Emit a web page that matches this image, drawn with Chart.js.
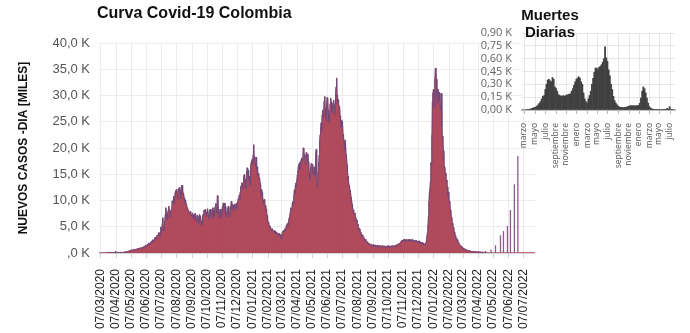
<!DOCTYPE html>
<html lang="es">
<head>
<meta charset="utf-8">
<title>Curva Covid-19 Colombia</title>
<script src="https://cdn.jsdelivr.net/npm/chart.js@4/dist/chart.umd.min.js"></script>
<style>
  body { margin: 0; background: #fff; }
  #wrap { position: relative; width: 690px; height: 333px; overflow: hidden; }
  canvas { position: absolute; top: 0; }
  .titulo { position: absolute; font-family: "Liberation Sans", Arial, sans-serif; font-weight: bold; color: #111; white-space: nowrap; }
  #t-casos { left: 97px; top: 5px; font-size: 16px; line-height: 16px; }
  #t-muertes { left: 505px; top: 6px; width: 90px; text-align: center; font-size: 15px; line-height: 17px; }
</style>
</head>
<body>
<div id="wrap">
  <canvas id="casos" width="690" height="333" style="left:0"></canvas>
  <canvas id="muertes" width="230" height="170" style="left:460px"></canvas>
  <div class="titulo" id="t-casos">Curva Covid-19 Colombia</div>
  <div class="titulo" id="t-muertes">Muertes<br>Diarias</div>
</div>
<script>
// casos nuevos por día, en miles (desde el 05/03/2020)
const casos2020 = [
  0,0,0,0,0,0,0,0,0,0,0,0,0,0,0,0.01,0.02,0.03,0.04,0.03,0.04,0.05,0.06,0.05,0.07,0.05,0.06,
  0.1,0.07,0.1,0.06,0.1,0.1,0.3,0.1,0.1,0.1,0.06,0.1,0.1,0.08,0.1,0.1,0.15,0.1,0.1,0.1,0.1,0.12,0.1,0.15,0.2,0.12,0.15,0.2,0.25,0.2,
  0.3,0.25,0.35,0.3,0.4,0.45,0.5,0.45,0.6,0.55,0.5,0.45,0.6,0.6,0.7,0.6,0.55,0.6,0.7,0.75,0.8,0.9,0.7,0.75,0.8,0.95,0.9,0.85,1.0,0.95,0.9,
  1.0,1.1,1.2,1.0,1.3,1.4,1.5,1.2,1.4,1.6,1.5,1.8,1.9,1.6,1.5,1.9,2.0,2.2,1.9,2.4,2.5,2.3,2.2,2.6,2.9,3.0,2.8,2.6,3.2,3.4,
  3.4,3.3,3.9,3.8,3.3,3.2,4.9,4.2,4.8,5.4,6.7,4.9,4.2,5.2,6.1,7.2,8.6,7.6,6.4,6.7,7.6,8.1,8.9,8.2,7.9,6.8,7.9,8.1,8.4,9.9,9.5,
  10.1,10.8,9.4,10.6,11.5,11.9,11.4,12.1,10.9,10.2,11.7,12.3,12.1,12.5,11.9,10.3,11.1,12.8,12.9,11.6,11.4,10.9,10.5,9.6,10.1,9.7,9.3,8.9,8.6,8.4,8.1,
  8.0,7.6,7.5,7.8,7.9,7.4,7.3,6.9,7.6,7.2,6.4,6.6,7.3,7.5,6.7,5.9,6.3,7.1,7.2,6.9,5.6,6.1,7.3,7.0,6.7,6.1,5.3,5.5,6.9,7.3,
  6.9,8.1,7.8,8.2,8.3,7.1,7.6,7.9,8.4,7.4,6.5,7.3,8.2,8.0,8.3,7.2,6.6,7.5,8.4,8.6,8.1,6.8,7.9,8.6,8.9,9.4,8.2,7.6,10.9,9.5,8.3,
  7.3,6.6,7.6,8.3,7.3,6.8,8.2,8.7,9.0,9.5,8.6,7.9,9.5,8.8,7.2,6.7,7.6,7.9,8.5,8.9,7.4,6.9,7.6,8.6,8.9,9.8,8.8,8.1,9.2,9.0,
  8.6,9.1,9.3,8.2,8.9,9.4,8.5,9.6,9.8,10.3,10.1,11.0,10.4,11.6,12.6,12.8,13.3,13.0,12.2,13.5,14.5,14.9,13.6,14.0,12.3,13.8,15.4,16.2,15.1,15.8,14.2
];
const casos2021 = [
  14.6,13.2,12.9,16.7,17.2,17.5,17.8,16.9,18.6,20.6,17.9,18.3,17.1,16.5,18.2,15.9,16.4,14.8,15.2,15.0,14.3,13.9,13.2,11.7,10.8,12.1,11.5,10.6,9.5,10.1,9.8,
  10.2,8.7,9.1,8.4,7.6,7.1,6.3,5.6,5.9,5.3,4.9,5.0,4.8,4.2,4.5,4.6,4.4,4.2,4.0,3.9,4.3,4.1,3.6,3.8,4.0,3.8,3.5,3.3,
  3.6,3.7,3.4,3.5,3.3,2.9,2.7,3.6,3.9,4.1,4.3,4.0,4.2,4.6,4.4,4.9,5.2,5.4,5.6,5.2,5.9,6.4,6.8,7.3,7.9,8.6,8.1,8.4,9.5,9.8,9.3,
  10.9,12.0,11.4,12.8,13.3,12.6,13.9,14.8,15.6,16.4,16.8,17.1,15.9,17.4,16.9,17.8,18.1,17.5,17.9,20.0,19.4,18.2,18.7,16.9,17.2,19.1,18.3,17.6,18.8,17.4,
  16.6,15.1,14.0,15.7,16.3,17.0,16.8,16.9,15.8,14.9,15.6,16.4,15.2,14.7,18.9,19.7,16.1,12.6,13.4,15.5,17.2,18.6,21.4,22.5,23.8,24.8,23.2,26.3,27.2,25.9,26.8,
  28.9,29.8,27.6,26.4,25.1,28.7,29.6,29.1,27.2,25.9,24.8,26.2,28.4,29.5,28.8,26.7,27.5,28.1,28.6,29.1,27.9,26.3,28.4,30.4,31.6,33.3,30.1,28.5,29.2,28.3,
  27.9,27.6,26.1,24.8,23.9,25.3,25.0,24.2,22.6,21.8,20.9,19.6,21.5,20.4,18.7,17.9,16.8,15.2,14.6,13.5,12.9,12.6,11.9,11.4,10.6,10.1,9.3,8.8,8.2,7.9,7.6,
  7.4,7.6,6.7,6.1,6.3,5.8,5.3,5.5,4.8,4.4,4.6,4.1,3.8,3.9,3.5,3.2,3.4,3.0,2.8,2.9,2.6,2.4,2.6,2.3,2.1,2.2,2.0,1.8,1.9,1.8,1.6,
  1.6,1.5,1.7,1.4,1.3,1.5,1.4,1.6,1.3,1.2,1.4,1.5,1.3,1.2,1.4,1.3,1.5,1.2,1.1,1.3,1.4,1.2,1.3,1.1,1.2,1.4,1.3,1.1,1.2,1.3,
  1.2,1.3,1.1,1.0,1.2,1.3,1.2,1.4,1.1,1.0,1.2,1.3,1.2,1.1,1.3,1.4,1.2,1.1,1.3,1.2,1.4,1.3,1.5,1.2,1.4,1.6,1.5,1.7,1.6,1.8,1.7,
  1.9,2.0,2.2,2.3,2.4,2.1,2.3,2.5,2.6,2.4,2.2,2.5,2.3,2.6,2.4,2.3,2.5,2.2,2.6,2.4,2.5,2.3,2.2,2.4,2.6,2.5,2.3,2.1,2.4,2.2,
  2.3,2.2,2.4,2.1,2.0,2.2,2.1,1.9,2.3,2.0,1.8,2.1,1.9,1.7,2.0,1.8,1.6,1.9,1.7,1.5,1.6,1.8,2.0,2.4,3.1,3.8,5.2,6.9,9.8,11.6,12.3
];
// hasta el 30/07/2022; desde finales de abril solo hay reportes semanales
const casos2022 = [
  13.6,17.2,16.8,22.4,28.9,30.4,31.1,29.5,27.8,33.2,35.2,34.6,33.1,29.8,28.4,31.2,30.7,29.1,30.5,29.6,27.4,28.1,30.4,24.0,22.3,21.4,19.5,17.8,16.4,15.9,14.7,
  15.2,13.4,13.9,12.6,11.2,11.6,10.3,9.9,9.4,8.2,7.9,6.8,6.6,5.7,5.3,4.9,4.2,4.0,3.4,3.3,2.9,2.8,2.5,2.5,2.1,2.0,1.9,1.6,
  1.5,1.3,1.4,1.1,1.2,0.9,1.0,0.9,0.7,0.8,0.7,0.6,0.65,0.6,0.5,0.55,0.45,0.4,0.45,0.4,0.35,0.3,0.35,0.3,0.3,0.25,0.3,0.25,0.2,0.25,0.2,
  0.2,0.2,0.2,0.2,0.15,0.2,0.2,0.15,0.15,0.2,0.15,0.15,0.15,0.1,0.1,0.15,0.15,0.1,0.1,0.1,0.1,0.3,0,0,0,0,0,0,0,0,
  0,0,0.6,0,0,0,0,0,0,0,0,1.4,0,0,0,0,0,0,0,0,0,3.3,0,0,0,0,0,4.1,0,0,0,
  0,0,0,0,5.1,0,0,0,0,0,8.1,0,0,0,0,0,0,0,13.0,0,0,0,0,0,0,18.4,0,0,0,0,
  0,0,0,0,0,0,0,0,0,0,0,0,0,0,0,0,0,0,0,0,0,0,0,0,0,0,0,0,0,0
];

// muertes diarias (miles), una barra por semana desde el 17/02/2020
const muertesSemana = [
  0,0,0,0,0.002,0.005,0.01,0.015,
  0.02,0.025,0.03,0.035,0.045,0.06,0.08,0.1,
  0.13,0.16,0.17,0.24,0.3,0.35,0.36,0.34,
  0.33,0.38,0.36,0.27,0.25,0.22,0.18,0.17,
  0.165,0.16,0.17,0.16,0.17,0.175,0.18,0.185,
  0.19,0.22,0.25,0.29,0.33,0.36,0.375,0.39,
  0.37,0.33,0.3,0.2,0.13,0.1,0.08,0.13,
  0.17,0.22,0.3,0.37,0.44,0.49,0.49,0.47,
  0.5,0.51,0.53,0.56,0.6,0.74,0.61,0.57,
  0.47,0.4,0.3,0.24,0.16,0.11,0.08,0.06,
  0.045,0.035,0.03,0.03,0.03,0.03,0.03,0.035,
  0.04,0.045,0.05,0.05,0.05,0.05,0.05,0.05,
  0.05,0.055,0.08,0.14,0.22,0.27,0.25,0.2,
  0.14,0.08,0.04,0.025,0.015,0.01,0.008,0.006,
  0.005,0.005,0.005,0.005,0.005,0.005,0.005,0.005,
  0.008,0.02,0.01,0.04,0.005,0.003,0,0
];

const MESES = ["enero", "febrero", "marzo", "abril", "mayo", "junio", "julio",
  "agosto", "septiembre", "octubre", "noviembre", "diciembre"];
const INICIO_CASOS = Date.UTC(2020, 2, 5);
const INICIO_MUERTES = Date.UTC(2020, 1, 17);
const DIA = 864e5;

const casos = [...casos2020, ...casos2021, ...casos2022];
const pad = n => String(n).padStart(2, "0");
const fechas = casos.map((_, i) => new Date(INICIO_CASOS + i * DIA));
const dias = fechas.map(d => `${pad(d.getUTCDate())}/${pad(d.getUTCMonth() + 1)}/${d.getUTCFullYear()}`);
// una marca por mes, el día 7
const marcasCasos = fechas.map((d, i) => (d.getUTCDate() === 7 ? i : -1)).filter(i => i >= 0);

const semanas = muertesSemana.map((_, i) => new Date(INICIO_MUERTES + i * 7 * DIA));
// nombre del mes (uno de cada dos) para la semana que contiene su día 1
function mesSemana(i) {
  const d0 = semanas[i];
  if (!d0) return null;
  for (let k = 0; k < 7; k++) {
    const d = new Date(d0.getTime() + k * DIA);
    if (d.getUTCDate() === 1 && d.getUTCMonth() % 2 === 0) return MESES[d.getUTCMonth()];
  }
  return null;
}
const marcasMuertes = semanas.map((_, i) => (mesSemana(i) ? i : -1)).filter(i => i >= 0);

const ARIAL = "'Liberation Sans', Arial, sans-serif";
const SEGOE = "'Open Sans', 'Noto Sans', sans-serif";

// los reportes sueltos (semanales) se ven como trazos finos violáceos
const colorCasos = c => {
  const i = c.dataIndex;
  const aislado = casos[i] > 0 && !casos[i - 1] && !casos[i + 1];
  return aislado ? "#8d5a8a" : "#b04b5d";
};

// líneas verticales y marcas del eje x en cada tick, con color explícito
const rejillaX = {
  id: "rejillaX",
  beforeDatasetsDraw(ch, args, o) {
    const { ctx, chartArea: a } = ch;
    const x = ch.scales.x;
    ctx.save();
    ctx.lineWidth = 1;
    for (const t of x.ticks) {
      const px = Math.round(x.getPixelForValue(t.value)) + 0.5;
      ctx.beginPath();
      ctx.strokeStyle = o.color;
      ctx.moveTo(px, a.top);
      ctx.lineTo(px, a.bottom);
      ctx.stroke();
      ctx.beginPath();
      ctx.strokeStyle = o.tickColor;
      ctx.moveTo(px, a.bottom);
      ctx.lineTo(px, a.bottom + o.tickLength);
      ctx.stroke();
    }
    ctx.restore();
  },
};

new Chart(document.getElementById("casos"), {
  data: {
    labels: casos.map((_, i) => i),
    datasets: [
      {
        type: "line",
        data: casos.map(v => (v > 0 ? v : null)),
        borderColor: "#71487a",
        borderWidth: 1,
        pointRadius: 0,
        spanGaps: false,
        order: 0,
      },
      {
        type: "bar",
        data: casos,
        backgroundColor: colorCasos,
        barPercentage: 1,
        categoryPercentage: 1,
        inflateAmount: 0.4,
        order: 1,
      },
    ],
  },
  options: {
    responsive: false,
    animation: false,
    events: [],
    layout: { padding: { top: 43, right: 155, left: 0, bottom: 0 } },
    plugins: {
      legend: { display: false },
      tooltip: { enabled: false },
      rejillaX: { color: "#ececec", tickColor: "#cfcfcf", tickLength: 5 },
    },
    scales: {
      x: {
        type: "linear",
        min: -0.5,
        max: casos.length - 0.5,
        offset: false,
        afterBuildTicks: s => { s.ticks = marcasCasos.map(v => ({ value: v })); },
        grid: { display: false },
        border: { color: "#d6d6d6" },
        ticks: {
          autoSkip: false,
          minRotation: 90,
          maxRotation: 90,
          padding: 8,
          color: "#222",
          font: { family: ARIAL, size: 12 },
          callback: v => dias[v],
        },
        afterFit: s => { s.height = 80; },
      },
      y: {
        min: 0,
        max: 40,
        ticks: {
          stepSize: 5,
          padding: 9,
          color: "#555",
          font: { family: ARIAL, size: 13 },
          callback: v => (v === 0 ? ",0 K" : v.toFixed(1).replace(".", ",") + " K"),
        },
        grid: { color: "#ececec", drawTicks: false },
        border: { display: false },
        title: {
          display: true,
          text: "NUEVOS CASOS -DIA [MILES]",
          color: "#111",
          font: { family: ARIAL, size: 12, weight: "bold" },
          padding: { top: 16, bottom: 0 },
        },
        afterFit: s => { s.width = 99; },
      },
    },
  },
  plugins: [rejillaX],
});

// fondo blanco para el área del gráfico pequeño
const fondoBlanco = {
  id: "fondoBlanco",
  beforeDraw(ch) {
    const a = ch.chartArea, ctx = ch.ctx;
    ctx.save();
    ctx.fillStyle = "#fff";
    ctx.fillRect(a.left, a.top, a.right - a.left, a.bottom - a.top);
    ctx.restore();
  },
};

new Chart(document.getElementById("muertes"), {
  type: "bar",
  data: {
    labels: muertesSemana.map((_, i) => i),
    datasets: [{
      data: muertesSemana,
      backgroundColor: "#404040",
      barPercentage: 1,
      categoryPercentage: 1,
      inflateAmount: 0.3,
    }],
  },
  options: {
    responsive: false,
    animation: false,
    events: [],
    layout: { padding: { top: 33, right: 15, left: 0, bottom: 0 } },
    plugins: {
      legend: { display: false },
      tooltip: { enabled: false },
      rejillaX: { color: "#e6e6e6", tickColor: "#bdbdbd", tickLength: 4 },
    },
    scales: {
      x: {
        type: "linear",
        min: -0.5,
        max: muertesSemana.length - 0.5,
        offset: false,
        afterBuildTicks: s => { s.ticks = marcasMuertes.map(v => ({ value: v })); },
        grid: { display: false },
        border: { color: "#bdbdbd", width: 2 },
        ticks: {
          autoSkip: false,
          minRotation: 90,
          maxRotation: 90,
          padding: 5,
          color: "#555",
          font: { family: SEGOE, size: 8.5 },
          callback: v => mesSemana(v),
        },
        afterFit: s => { s.height = 60; },
      },
      y: {
        min: 0,
        max: 0.9,
        ticks: {
          stepSize: 0.15,
          autoSkip: false,
          padding: 10,
          color: "#666",
          font: { family: SEGOE, size: 11 },
          callback: v => v.toFixed(2).replace(".", ",") + " K",
        },
        grid: { color: "#e6e6e6", drawTicks: false },
        border: { display: false },
        afterFit: s => { s.width = 62; },
      },
    },
  },
  plugins: [fondoBlanco, rejillaX],
});
</script>
</body>
</html>
